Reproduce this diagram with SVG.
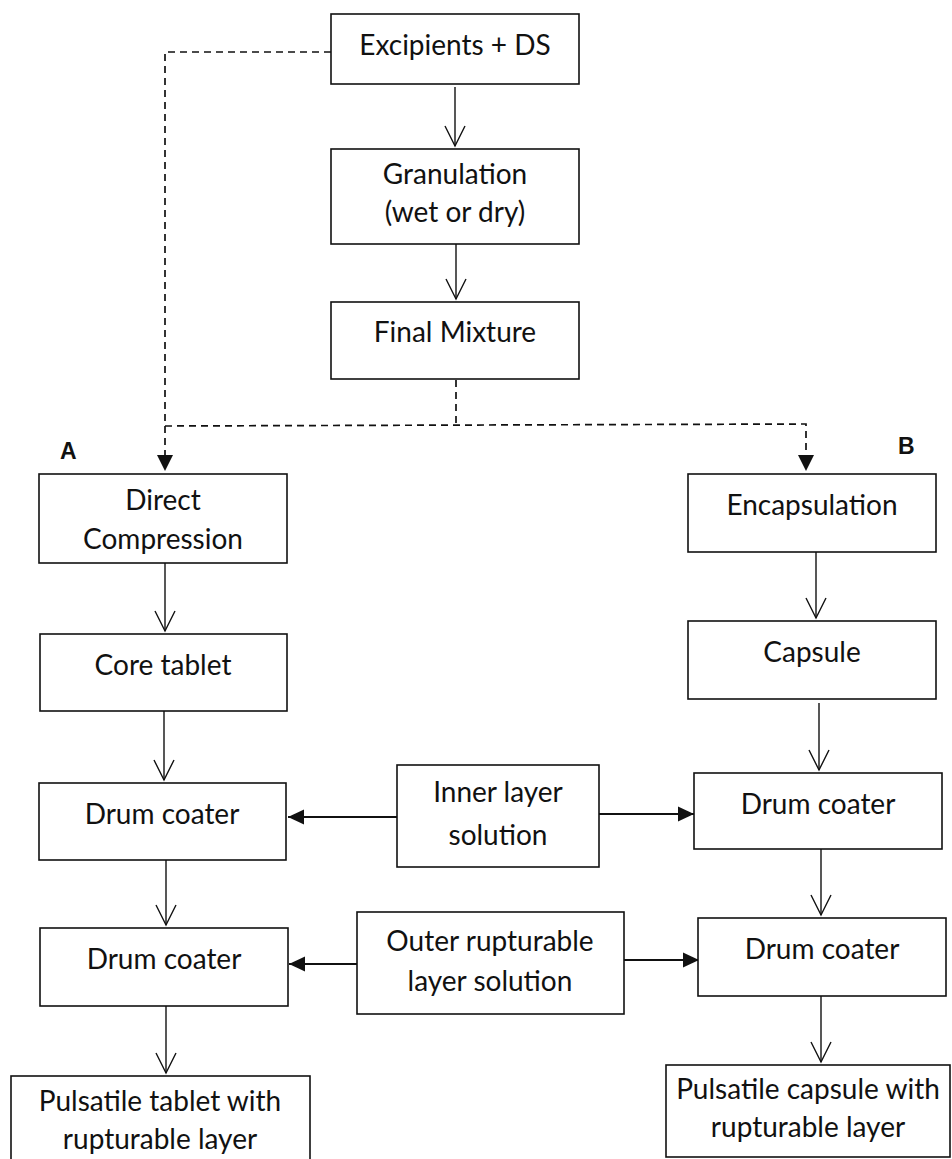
<svg xmlns="http://www.w3.org/2000/svg" width="952" height="1159" viewBox="0 0 952 1159">
  <style>
    .box { fill: #fff; stroke: #111; stroke-width: 1.6; }
    .lbl { font-family: Lato, "Liberation Sans", sans-serif; font-size: 28px; fill: #111; text-anchor: middle; }
    .tag { font-family: "Liberation Sans", Lato, sans-serif; font-size: 23px; font-weight: bold; fill: #111; }
    .flow { fill: none; stroke: #111; stroke-width: 1.4; }
    .feed { fill: none; stroke: #111; stroke-width: 2; }
    .dash { fill: none; stroke: #111; stroke-width: 1.7; stroke-dasharray: 7 5; }
  </style>
  <defs>
    <marker id="open" markerUnits="userSpaceOnUse" viewBox="-22 -12 24 24" refX="0" refY="0" markerWidth="24" markerHeight="24" orient="auto" overflow="visible">
      <path d="M -20,-10 L 0,0 L -20,10" fill="none" stroke="#111" stroke-width="1.4"/>
    </marker>
    <marker id="solid" markerUnits="userSpaceOnUse" viewBox="-17 -9 18 18" refX="0" refY="0" markerWidth="18" markerHeight="18" orient="auto" overflow="visible">
      <path d="M -16,-7.5 L 0,0 L -16,7.5 Z" fill="#111"/>
    </marker>
  </defs>

  <rect width="952" height="1159" fill="#fff"/>

  <!-- connectors -->
  <g id="connectors">
    <!-- dashed routes to the two branches -->
    <path class="dash" d="M 331,52 H 165 V 456"/>
    <path class="dash" d="M 456,380 V 425"/>
    <path class="dash" d="M 165,426 L 806,424 V 456"/>
    <path d="M 157,455 L 173,455 L 165,471 Z" fill="#111"/>
    <path d="M 798,455 L 814,455 L 806,471 Z" fill="#111"/>

    <!-- main flow -->
    <line class="flow" x1="455" y1="87" x2="455" y2="146" marker-end="url(#open)"/>
    <line class="flow" x1="456" y1="244" x2="456" y2="299" marker-end="url(#open)"/>
    <line class="flow" x1="165" y1="563" x2="165" y2="631" marker-end="url(#open)"/>
    <line class="flow" x1="164" y1="711" x2="164" y2="780" marker-end="url(#open)"/>
    <line class="flow" x1="816" y1="552" x2="816" y2="618" marker-end="url(#open)"/>
    <line class="flow" x1="819" y1="703" x2="819" y2="770" marker-end="url(#open)"/>
    <line class="flow" x1="166" y1="860" x2="166" y2="925" marker-end="url(#open)"/>
    <line class="flow" x1="821" y1="849" x2="821" y2="915" marker-end="url(#open)"/>
    <line class="flow" x1="166" y1="1006" x2="166" y2="1073" marker-end="url(#open)"/>
    <line class="flow" x1="821" y1="996" x2="821" y2="1062" marker-end="url(#open)"/>

    <!-- coating solutions fed to the drum coaters -->
    <line class="feed" x1="397" y1="817" x2="288" y2="817" marker-end="url(#solid)"/>
    <line class="feed" x1="599" y1="814" x2="694" y2="814" marker-end="url(#solid)"/>
    <line class="feed" x1="357" y1="964" x2="289" y2="964" marker-end="url(#solid)"/>
    <line class="feed" x1="624" y1="960" x2="699" y2="960" marker-end="url(#solid)"/>
  </g>

  <!-- branch labels -->
  <text class="tag" x="60" y="459">A</text>
  <text class="tag" x="898" y="454">B</text>

  <g id="excipients">
    <rect class="box" x="331" y="14" width="248" height="70"/>
    <text class="lbl" x="455" y="55">Excipients + DS</text>
  </g>
  <g id="granulation">
    <rect class="box" x="331" y="149" width="248" height="95"/>
    <text class="lbl" x="455" y="184">Granulation</text>
    <text class="lbl" x="455" y="222">(wet or dry)</text>
  </g>
  <g id="final-mixture">
    <rect class="box" x="331" y="302" width="248" height="77"/>
    <text class="lbl" x="455" y="342">Final Mixture</text>
  </g>
  <g id="direct-compression">
    <rect class="box" x="39" y="474" width="248" height="89"/>
    <text class="lbl" x="163" y="510">Direct</text>
    <text class="lbl" x="163" y="549">Compression</text>
  </g>
  <g id="core-tablet">
    <rect class="box" x="40" y="634" width="247" height="77"/>
    <text class="lbl" x="163" y="675">Core tablet</text>
  </g>
  <g id="encapsulation">
    <rect class="box" x="688" y="474" width="248" height="78"/>
    <text class="lbl" x="812" y="515">Encapsulation</text>
  </g>
  <g id="capsule">
    <rect class="box" x="688" y="621" width="248" height="78"/>
    <text class="lbl" x="812" y="662">Capsule</text>
  </g>
  <g id="drum-coater-a1">
    <rect class="box" x="39" y="783" width="247" height="77"/>
    <text class="lbl" x="162" y="824">Drum coater</text>
  </g>
  <g id="inner-layer">
    <rect class="box" x="397" y="765" width="202" height="102"/>
    <text class="lbl" x="498" y="802">Inner layer</text>
    <text class="lbl" x="498" y="845">solution</text>
  </g>
  <g id="drum-coater-b1">
    <rect class="box" x="694" y="773" width="248" height="76"/>
    <text class="lbl" x="818" y="814">Drum coater</text>
  </g>
  <g id="drum-coater-a2">
    <rect class="box" x="40" y="928" width="248" height="78"/>
    <text class="lbl" x="164" y="969">Drum coater</text>
  </g>
  <g id="outer-layer">
    <rect class="box" x="357" y="912" width="267" height="102"/>
    <text class="lbl" x="490" y="951">Outer rupturable</text>
    <text class="lbl" x="490" y="991">layer solution</text>
  </g>
  <g id="drum-coater-b2">
    <rect class="box" x="698" y="918" width="248" height="78"/>
    <text class="lbl" x="822" y="959">Drum coater</text>
  </g>
  <g id="pulsatile-tablet">
    <rect class="box" x="11" y="1076" width="299" height="100"/>
    <text class="lbl" x="160" y="1111">Pulsatile tablet with</text>
    <text class="lbl" x="160" y="1149">rupturable layer</text>
  </g>
  <g id="pulsatile-capsule">
    <rect class="box" x="666" y="1065" width="284" height="92"/>
    <text class="lbl" x="808" y="1099">Pulsatile capsule with</text>
    <text class="lbl" x="808" y="1137">rupturable layer</text>
  </g>
</svg>
